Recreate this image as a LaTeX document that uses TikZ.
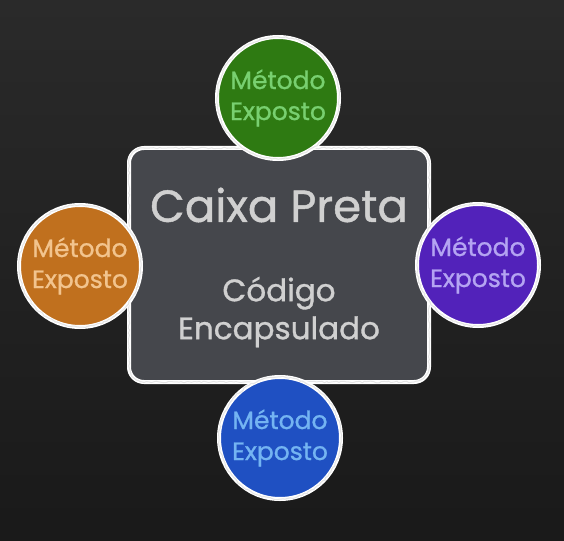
\documentclass[tikz,border=0pt]{standalone}
\usepackage{fontspec}
\setmainfont{Poppins}[FakeBold=1.0]
\usetikzlibrary{decorations.pathmorphing}
\definecolor{quadro}{HTML}{2A2A2A}
\definecolor{caixafundo}{HTML}{45474C}
\definecolor{giz}{HTML}{D0D0D0}
\definecolor{verde}{HTML}{2E7A12}
\definecolor{verdetxt}{HTML}{78D070}
\definecolor{laranja}{HTML}{C0701E}
\definecolor{laranjatxt}{HTML}{F2C48E}
\definecolor{roxo}{HTML}{5222BA}
\definecolor{roxotxt}{HTML}{B4A4F2}
\definecolor{azul}{HTML}{1F50C2}
\definecolor{azultxt}{HTML}{74B4F2}
\tikzset{
    giz/.style={draw=white, line width=4pt,
        postaction={decorate, draw=white!80!gray, line width=1pt, sharp corners,
            decoration={random steps, segment length=2.5pt, amplitude=0.8pt}}},
    metodo/.style={circle, giz, minimum size=122pt, inner sep=0pt,
        align=center, font=\fontsize{25}{31}\selectfont}
}
\begin{document}
\begin{tikzpicture}[x=1pt, y=-1pt]
        \useasboundingbox (0,0) rectangle (564,540);
        \shade [top color=quadro, bottom color=black!90] (0,0) rectangle (564,540);
        \node (box) [giz, fill=caixafundo, rounded corners=15pt, minimum width=300pt,
                minimum height=234pt] at (279,265) {};
        \node (titulo) [text=giz, font=\fontsize{45}{52}\selectfont] at (279,205) {Caixa Preta};
        \node (codigo) [text=giz, align=center, font=\fontsize{31}{38}\selectfont]
                at (279,312) {Código\\Encapsulado};
        \node (m0) [metodo, fill=verde, text=verdetxt] at (278,98) {Método\\Exposto};
        \node (m1) [metodo, fill=laranja, text=laranjatxt] at (80,266) {Método\\Exposto};
        \node (m2) [metodo, fill=roxo, text=roxotxt] at (478,265) {Método\\Exposto};
        \node (m3) [metodo, fill=azul, text=azultxt] at (280,438) {Método\\Exposto};
\end{tikzpicture}
\end{document}
